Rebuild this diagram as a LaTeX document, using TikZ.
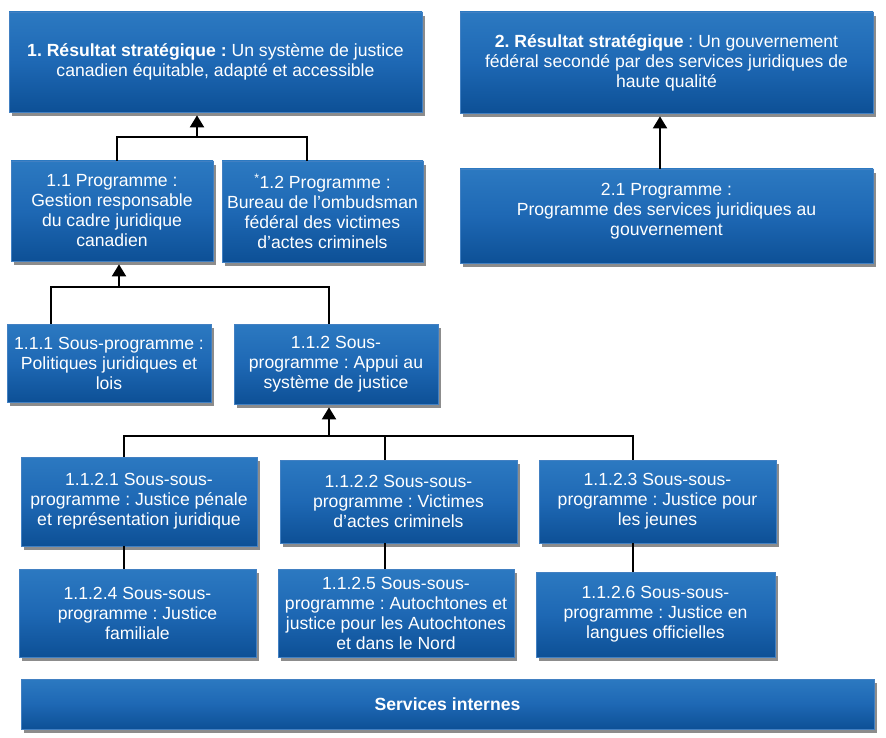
\documentclass[tikz,border=0pt]{standalone}
\usepackage{fontspec}
\setmainfont{Liberation Sans}
\frenchspacing
\usetikzlibrary{shadows,arrows.meta}
\definecolor{btop}{RGB}{44,121,193}
\definecolor{bmid}{RGB}{30,104,180}
\definecolor{bbot}{RGB}{13,80,150}
\definecolor{bedge}{RGB}{66,128,194}
\definecolor{shgray}{RGB}{140,140,140}
\tikzset{
  bx/.style={rectangle, inner sep=2pt, align=center, text=white,
    top color=btop, bottom color=bbot, middle color=bmid,
    draw=bedge, line width=0.7pt,
    font=\fontsize{17.6}{20}\selectfont,
    drop shadow={shadow xshift=2.5pt, shadow yshift=-4pt, fill=shgray, opacity=1}},
  conn/.style={draw=black, line width=1.3pt},
  arr/.style={draw=black, line width=2pt, shorten >=3pt, -{Triangle[width=14pt,length=12pt]}},
}
\newcommand{\bxnode}[6]{\node[bx, minimum width=#4pt, minimum height=#5pt] (#1) at (#2,#3) {#6};}
\begin{document}
\begin{tikzpicture}[x=1pt,y=-1pt]
\useasboundingbox (0,0) rectangle (886,738);
\fill[white] (0,0) rectangle (886,738);
% boxes
\bxnode{r1}{215.5}{62}{413}{100}{\textbf{1. Résultat stratégique :} Un système de justice\\canadien équitable, adapté et accessible}
\bxnode{r2}{666.5}{62.5}{413}{101}{\textbf{2. Résultat stratégique} : Un gouvernement\\fédéral secondé par des services juridiques de\\haute qualité}
\bxnode{p11}{112}{211}{202}{100}{1.1 Programme :\\Gestion responsable\\du cadre juridique\\canadien}
\bxnode{p12}{322.5}{211.5}{201}{101}{\textsuperscript{*}1.2 Programme :\\Bureau de l’ombudsman\\fédéral des victimes\\d’actes criminels}
\bxnode{p21}{666.5}{216}{413}{94}{2.1 Programme :\\Programme des services juridiques au\\gouvernement\\[-6pt]\mbox{}}
\bxnode{s111}{109}{363}{204}{78}{1.1.1 Sous-programme :\\Politiques juridiques et\\lois}
\bxnode{s112}{336}{364}{204}{80}{1.1.2 Sous-\\programme : Appui au\\système de justice}
\bxnode{ss1}{139}{501.5}{236}{89}{1.1.2.1 Sous-sous-\\programme : Justice pénale\\et représentation juridique}
\bxnode{ss2}{398.5}{501.5}{237}{83}{1.1.2.2 Sous-sous-\\programme : Victimes\\d’actes criminels}
\bxnode{ss3}{657.5}{501.5}{237}{83}{1.1.2.3 Sous-sous-\\programme : Justice pour\\les jeunes}
\bxnode{ss4}{137.5}{613}{237}{88}{1.1.2.4 Sous-sous-\\programme : Justice\\familiale}
\bxnode{ss5}{396}{613}{236}{88}{1.1.2.5 Sous-sous-\\programme : Autochtones et\\justice pour les Autochtones\\et dans le Nord}
\bxnode{ss6}{655.5}{614.5}{239}{85}{1.1.2.6 Sous-sous-\\programme : Justice en\\langues officielles}
\bxnode{si}{447.5}{704}{853}{50}{\textbf{Services internes}}
% junctions
\coordinate (j1) at (197,137);
\coordinate (j2) at (119,287);
\coordinate (j3) at (329,436);
% connectors level 1
\draw[conn] ([xshift=5pt]p11.north) |- (j1) -| ([xshift=-15.5pt]p12.north);
\draw[arr] (j1) -- (j1 |- r1.south);
\draw[arr] ([xshift=-6.5pt]p21.north) -- ([xshift=-6.5pt]r2.south);
% level 2
\draw[conn] ([xshift=-58pt]s111.north) |- (j2) -| ([xshift=-7pt]s112.north);
\draw[arr] (j2) -- (j2 |- p11.south);
% level 3
\draw[conn] ([xshift=-15pt]ss1.north) |- (j3) -| ([xshift=-24.5pt]ss3.north);
\draw[conn] ([xshift=-13.5pt]ss2.north) -- ([xshift=-13.5pt]ss2.north |- j3);
\draw[arr] (j3) -- (j3 |- s112.south);
% level 4
\draw[conn] ([xshift=-15pt]ss1.south) -- ([xshift=-15pt]ss1.south |- ss4.north);
\draw[conn] ([xshift=-13.5pt]ss2.south) -- ([xshift=-13.5pt]ss2.south |- ss5.north);
\draw[conn] ([xshift=-24.5pt]ss3.south) -- ([xshift=-24.5pt]ss3.south |- ss6.north);
\end{tikzpicture}
\end{document}
